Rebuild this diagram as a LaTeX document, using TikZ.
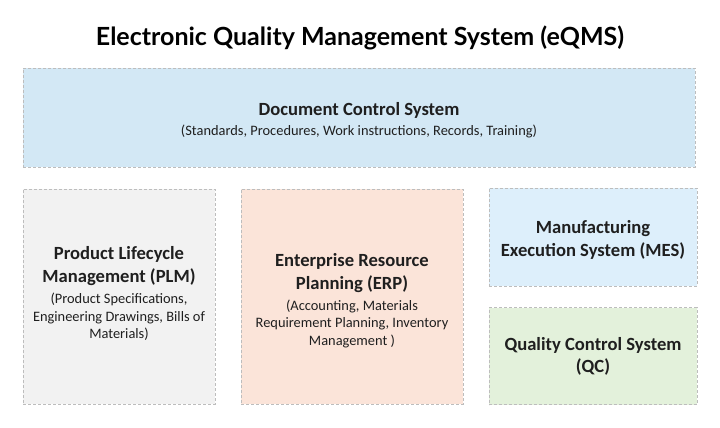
\documentclass[tikz,border=0pt]{standalone}
\usepackage{fontspec}
\setmainfont{Carlito}
\newfontfamily\titlefont{Lato}
\usepackage{tikz}
\usetikzlibrary{positioning}

\definecolor{dcsblue}{HTML}{D3E8F5}
\definecolor{mesblue}{HTML}{DDEFFB}
\definecolor{plmgray}{HTML}{F2F2F2}
\definecolor{erppeach}{HTML}{FBE4D9}
\definecolor{qcgreen}{HTML}{E3F1DB}
\definecolor{edgegray}{HTML}{BDBDBD}

\newcommand{\sysname}[1]{{\fontsize{18.6}{17.5}\selectfont\bfseries #1}}
\newcommand{\sysinfo}[1]{{\fontsize{14.4}{17.5}\selectfont #1}}

\tikzset{
  sysbox/.style={draw=edgegray, dash pattern=on 3pt off 2pt, line width=0.8pt, inner sep=0pt},
  systext/.style={align=center, inner sep=0pt, text=black!88,
    font=\fontsize{14.4}{17.5}\selectfont},
}

\begin{document}
\begin{tikzpicture}[x=1pt, y=1pt]
        \useasboundingbox (0,0) rectangle (720,-428);
        % Title
        \node (title) at (360,-38) {\titlefont\fontsize{25}{30}\selectfont\bfseries Electronic Quality Management System (eQMS)};
        % Document control across the top
        \node[sysbox, fill=dcsblue, minimum width=672, minimum height=99] (dcs) at (359,-117.5) {};
        \node[systext] (dcstext) at ([yshift=-3]dcs.center)
          {\sysname{Document Control System}\\[2.5pt] \sysinfo{(Standards, Procedures, Work instructions, Records, Training)}};
        % PLM
        \node[sysbox, fill=plmgray, minimum width=192, minimum height=215] (plm) at (119,-296.5) {};
        \node[systext] (plmtext) at ([yshift=3]plm.center)
          {\sysname{Product Lifecycle}\\[5.5pt] \sysname{Management (PLM)}\\[3.5pt] \sysinfo{(Product Specifications,}\\ \sysinfo{Engineering Drawings, Bills of}\\ \sysinfo{Materials)}};
        % ERP
        \node[sysbox, fill=erppeach, minimum width=222, minimum height=215] (erp) at (352,-296.5) {};
        \node[systext] (erptext) at ([yshift=-4]erp.center)
          {\sysname{Enterprise Resource}\\[5.5pt] \sysname{Planning (ERP)}\\[3.5pt] \sysinfo{(Accounting, Materials}\\ \sysinfo{Requirement Planning, Inventory}\\ \sysinfo{Management )}};
        % MES
        \node[sysbox, fill=mesblue, minimum width=208, minimum height=98] (mes) at (593,-237) {};
        \node[systext] (mestext) at ([yshift=-2.5]mes.center)
          {\sysname{Manufacturing}\\[5.5pt] \sysname{Execution System (MES)}};
        % QC
        \node[sysbox, fill=qcgreen, minimum width=208, minimum height=97, below=21 of mes] (qc) {};
        \node[systext] (qctext) at (qc.center)
          {\sysname{Quality Control System}\\[5pt] \sysname{(QC)}};
    \end{tikzpicture}
\end{document}
